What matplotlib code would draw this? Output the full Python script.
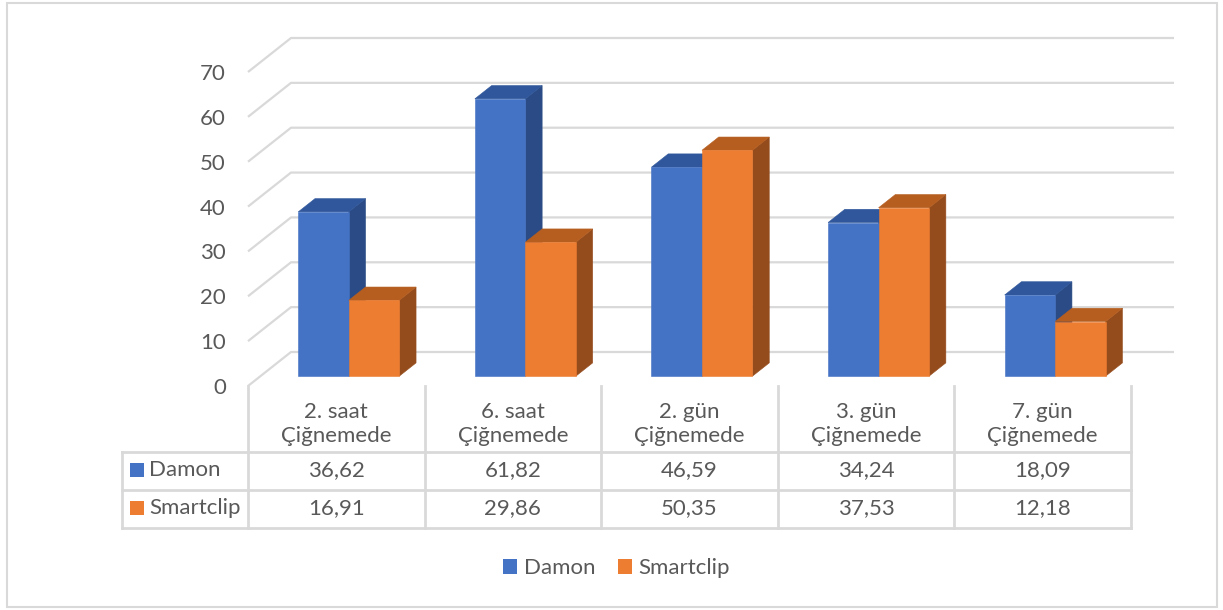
"""3D-style clustered column chart with data table (Damon vs Smartclip)."""

import matplotlib

matplotlib.use("Agg")
import matplotlib.pyplot as plt
from matplotlib.lines import Line2D
from matplotlib.patches import Patch, Polygon, Rectangle
from matplotlib.transforms import blended_transform_factory

categories = [
    "2. saat\nÇiğnemede",
    "6. saat\nÇiğnemede",
    "2. gün\nÇiğnemede",
    "3. gün\nÇiğnemede",
    "7. gün\nÇiğnemede",
]
series_names = ["Damon", "Smartclip"]
damon = [36.62, 61.82, 46.59, 34.24, 18.09]
smartclip = [16.91, 29.86, 50.35, 37.53, 12.18]
y_ticks = [0, 10, 20, 30, 40, 50, 60, 70]

FRONT = ["#4472C4", "#ED7D31"]
TOP = ["#30579B", "#B65E20"]
SIDE = ["#2A4B85", "#954C1C"]
GRID = "#D9D9D9"
TEXT = "#595959"

# oblique depth of the whole plot box (data units) and bar placement in it
DX, DY = 0.2435, 7.58
F_FRONT, F_DEPTH = 0.29, 0.39
BAR_W = 0.286

plt.rcParams["font.family"] = ["Lato", "DejaVu Sans"]
FS = 16

W, H = 1223, 610
fig = plt.figure(figsize=(W / 100, H / 100), dpi=100)
ax = fig.add_axes([248 / W, 1 - 386 / H, 883 / W, 314 / H])
ax.set_xlim(0, len(categories))
ax.set_ylim(0, 70)
for s in ax.spines.values():
    s.set_visible(False)
ax.set_xticks([])
ax.set_yticks(y_ticks)
ax.set_yticklabels([str(t) for t in y_ticks], color=TEXT, fontsize=FS)
ax.tick_params(axis="y", length=0, pad=16)
ax.patch.set_alpha(0)

# back wall gridlines with the diagonal on the left wall
n = len(categories)
for v in y_ticks:
    ax.plot([0, DX, n + DX], [v, v + DY, v + DY], color=GRID, lw=1.6,
            clip_on=False, zorder=1, solid_capstyle="butt")

# bars: side, top, then front face, left to right
z = 2
for i in range(n):
    for j, vals in enumerate([damon, smartclip]):
        h = vals[i]
        x0 = i + 0.5 - BAR_W + j * BAR_W + F_FRONT * DX
        y0 = F_FRONT * DY
        ddx, ddy = F_DEPTH * DX, F_DEPTH * DY
        side = Polygon([(x0 + BAR_W, y0), (x0 + BAR_W + ddx, y0 + ddy),
                        (x0 + BAR_W + ddx, y0 + h + ddy), (x0 + BAR_W, y0 + h)],
                       closed=True, facecolor=SIDE[j], edgecolor=SIDE[j],
                       lw=0.4, zorder=z, clip_on=False)
        top = Polygon([(x0, y0 + h), (x0 + BAR_W, y0 + h),
                       (x0 + BAR_W + ddx, y0 + h + ddy), (x0 + ddx, y0 + h + ddy)],
                      closed=True, facecolor=TOP[j], edgecolor=TOP[j],
                      lw=0.4, zorder=z + 1, clip_on=False)
        ax.add_patch(side)
        ax.add_patch(top)
        ax.bar(x0, h, width=BAR_W, bottom=y0, align="edge", color=FRONT[j],
               edgecolor=FRONT[j], lw=0.4, zorder=z + 2, clip_on=False)
        z += 3

# data table below the plot
tr = blended_transform_factory(ax.transData, ax.transAxes)
row_lines = [-0.210, -0.331, -0.452]
left_x = -0.713
for i in range(n + 1):
    ax.add_line(Line2D([i, i], [0, row_lines[-1]], transform=tr, color=GRID,
                       lw=2, clip_on=False))
ax.add_line(Line2D([left_x, left_x], [row_lines[0], row_lines[-1]], transform=tr,
                   color=GRID, lw=2, clip_on=False))
for yl in row_lines:
    ax.add_line(Line2D([left_x, n], [yl, yl], transform=tr, color=GRID,
                       lw=2, clip_on=False))

for i, cat in enumerate(categories):
    ax.text(i + 0.5, -0.121, cat, transform=tr, ha="center", va="center",
            color=TEXT, fontsize=FS, linespacing=1.3)
row_y = [-0.2675, -0.389]
for j, (name, vals) in enumerate(zip(series_names, [damon, smartclip])):
    for i, v in enumerate(vals):
        ax.text(i + 0.5, row_y[j], f"{v:.2f}".replace(".", ","), transform=tr,
                ha="center", va="center", color=TEXT, fontsize=FS)
    fig.add_artist(Rectangle((130 / W, 1 - (row_y[j] * -314 + 386 + 7) / H),
                             14 / W, 14 / H, facecolor=FRONT[j], edgecolor="none",
                             transform=fig.transFigure))
    ax.text(left_x + 27 / 176.6, row_y[j], name, transform=tr, ha="left",
            va="center", color=TEXT, fontsize=FS)

# legend
handles = [Patch(facecolor=c, edgecolor="none") for c in FRONT]
fig.legend(handles, series_names, loc="center", ncol=2,
           bbox_to_anchor=(616.5 / W, 1 - 568 / H), frameon=False,
           fontsize=FS, labelcolor=TEXT, handlelength=0.65, handleheight=0.65,
           handletextpad=0.3, columnspacing=1.0)

# chart border
fig.add_artist(Rectangle((7 / W, 3 / H), 1210 / W, 604 / H, fill=False,
                         edgecolor=GRID, lw=1.5, transform=fig.transFigure))

fig.savefig("out.png", dpi=100)
